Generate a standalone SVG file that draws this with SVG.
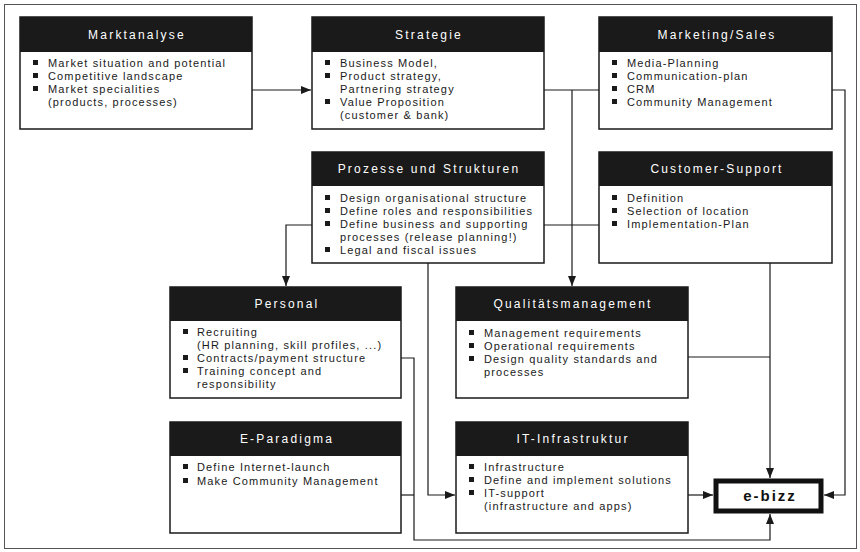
<svg xmlns="http://www.w3.org/2000/svg" width="860" height="552" viewBox="0 0 860 552">
<defs>
<style>
.frame{fill:none;stroke:#555;stroke-width:1}
.box{fill:#fff;stroke:#1a1a1a;stroke-width:1.5}
.hdr{fill:#1a1a1a}
.ttl{font-family:"Liberation Sans",Arial,sans-serif;font-size:12px;fill:#fff;letter-spacing:2.2px;text-anchor:middle}
.txt{font-family:"Liberation Sans",Arial,sans-serif;font-size:11px;fill:#1a1a1a;letter-spacing:1.15px}
.blt{fill:#1a1a1a}
.conn{fill:none;stroke:#1a1a1a;stroke-width:1.2}
.eb{fill:#fff;stroke:#111;stroke-width:5}
.ebt{font-family:"Liberation Sans",Arial,sans-serif;font-size:15px;font-weight:bold;fill:#111;letter-spacing:2px;text-anchor:middle}
</style>
<marker id="ah" markerWidth="10" markerHeight="8" refX="10" refY="4" orient="auto" markerUnits="userSpaceOnUse">
<path d="M0,0 L10,4 L0,8 z" fill="#1a1a1a"/>
</marker>
</defs>
<rect class="frame" x="4.5" y="4.5" width="852" height="544"/>

<g id="connectors">
<path class="conn" d="M252,90 H311" marker-end="url(#ah)"/>
<path class="conn" d="M544,90 H599"/>
<path class="conn" d="M572,90 V286" marker-end="url(#ah)"/>
<path class="conn" d="M832,90 H845 V495 H824" marker-end="url(#ah)"/>
<path class="conn" d="M312,225 H286 V286" marker-end="url(#ah)"/>
<path class="conn" d="M544,225 H599"/>
<path class="conn" d="M428,263 V495 H455" marker-end="url(#ah)"/>
<path class="conn" d="M770,263 V478" marker-end="url(#ah)"/>
<path class="conn" d="M688,357 H770"/>
<path class="conn" d="M688,495 H713" marker-end="url(#ah)"/>
<path class="conn" d="M401,358 H414 V540 H770 V514" marker-end="url(#ah)"/>
<path class="conn" d="M401,495 H414"/>
</g>

<g id="marktanalyse">
<rect class="box" x="20" y="17" width="232" height="112"/>
<rect class="hdr" x="20" y="17" width="232" height="35"/>
<text class="ttl" x="137" y="39">Marktanalyse</text>
<rect class="blt" x="33" y="60" width="5" height="5"/><text class="txt" x="48" y="67">Market situation and potential</text>
<rect class="blt" x="33" y="73" width="5" height="5"/><text class="txt" x="48" y="80">Competitive landscape</text>
<rect class="blt" x="33" y="86" width="5" height="5"/><text class="txt" x="48" y="93">Market specialities</text>
<text class="txt" x="48" y="106">(products, processes)</text>
</g>

<g id="strategie">
<rect class="box" x="312" y="17" width="232" height="112"/>
<rect class="hdr" x="312" y="17" width="232" height="35"/>
<text class="ttl" x="429" y="39">Strategie</text>
<rect class="blt" x="325" y="60" width="5" height="5"/><text class="txt" x="340" y="67">Business Model,</text>
<rect class="blt" x="325" y="73" width="5" height="5"/><text class="txt" x="340" y="80">Product strategy,</text>
<text class="txt" x="340" y="93">Partnering strategy</text>
<rect class="blt" x="325" y="99" width="5" height="5"/><text class="txt" x="340" y="106">Value Proposition</text>
<text class="txt" x="340" y="119">(customer &amp; bank)</text>
</g>

<g id="marketing">
<rect class="box" x="599" y="17" width="233" height="112"/>
<rect class="hdr" x="599" y="17" width="233" height="35"/>
<text class="ttl" x="717" y="39">Marketing/Sales</text>
<rect class="blt" x="612" y="60" width="5" height="5"/><text class="txt" x="627" y="67">Media-Planning</text>
<rect class="blt" x="612" y="73" width="5" height="5"/><text class="txt" x="627" y="80">Communication-plan</text>
<rect class="blt" x="612" y="86" width="5" height="5"/><text class="txt" x="627" y="93">CRM</text>
<rect class="blt" x="612" y="99" width="5" height="5"/><text class="txt" x="627" y="106">Community Management</text>
</g>

<g id="prozesse">
<rect class="box" x="312" y="152" width="232" height="111"/>
<rect class="hdr" x="312" y="152" width="232" height="34"/>
<text class="ttl" x="429" y="173">Prozesse und Strukturen</text>
<rect class="blt" x="325" y="195" width="5" height="5"/><text class="txt" x="340" y="202">Design organisational structure</text>
<rect class="blt" x="325" y="208" width="5" height="5"/><text class="txt" x="340" y="215">Define roles and responsibilities</text>
<rect class="blt" x="325" y="221" width="5" height="5"/><text class="txt" x="340" y="228">Define business and supporting</text>
<text class="txt" x="340" y="241">processes (release planning!)</text>
<rect class="blt" x="325" y="247" width="5" height="5"/><text class="txt" x="340" y="254">Legal and fiscal issues</text>
</g>

<g id="customer-support">
<rect class="box" x="599" y="152" width="233" height="111"/>
<rect class="hdr" x="599" y="152" width="233" height="34"/>
<text class="ttl" x="717" y="173">Customer-Support</text>
<rect class="blt" x="612" y="195" width="5" height="5"/><text class="txt" x="627" y="202">Definition</text>
<rect class="blt" x="612" y="208" width="5" height="5"/><text class="txt" x="627" y="215">Selection of location</text>
<rect class="blt" x="612" y="221" width="5" height="5"/><text class="txt" x="627" y="228">Implementation-Plan</text>
</g>

<g id="personal">
<rect class="box" x="170" y="287" width="231" height="111"/>
<rect class="hdr" x="170" y="287" width="231" height="34"/>
<text class="ttl" x="287" y="308">Personal</text>
<rect class="blt" x="183" y="329" width="5" height="5"/><text class="txt" x="197" y="336">Recruiting</text>
<text class="txt" x="197" y="349">(HR planning, skill profiles, ...)</text>
<rect class="blt" x="183" y="355" width="5" height="5"/><text class="txt" x="197" y="362">Contracts/payment structure</text>
<rect class="blt" x="183" y="368" width="5" height="5"/><text class="txt" x="197" y="375">Training concept and</text>
<text class="txt" x="197" y="388">responsibility</text>
</g>

<g id="qualitaetsmanagement">
<rect class="box" x="456" y="287" width="232" height="111"/>
<rect class="hdr" x="456" y="287" width="232" height="34"/>
<text class="ttl" x="573" y="308">Qualitätsmanagement</text>
<rect class="blt" x="469" y="330" width="5" height="5"/><text class="txt" x="484" y="337">Management requirements</text>
<rect class="blt" x="469" y="343" width="5" height="5"/><text class="txt" x="484" y="350">Operational requirements</text>
<rect class="blt" x="469" y="356" width="5" height="5"/><text class="txt" x="484" y="363">Design quality standards and</text>
<text class="txt" x="484" y="376">processes</text>
</g>

<g id="e-paradigma">
<rect class="box" x="170" y="422" width="231" height="111"/>
<rect class="hdr" x="170" y="422" width="231" height="34"/>
<text class="ttl" x="287" y="443">E-Paradigma</text>
<rect class="blt" x="183" y="464" width="5" height="5"/><text class="txt" x="197" y="471">Define Internet-launch</text>
<rect class="blt" x="183" y="478" width="5" height="5"/><text class="txt" x="197" y="485">Make Community Management</text>
</g>

<g id="it-infrastruktur">
<rect class="box" x="456" y="422" width="232" height="111"/>
<rect class="hdr" x="456" y="422" width="232" height="34"/>
<text class="ttl" x="573" y="443">IT-Infrastruktur</text>
<rect class="blt" x="469" y="464" width="5" height="5"/><text class="txt" x="484" y="471">Infrastructure</text>
<rect class="blt" x="469" y="477" width="5" height="5"/><text class="txt" x="484" y="484">Define and implement solutions</text>
<rect class="blt" x="469" y="490" width="5" height="5"/><text class="txt" x="484" y="497">IT-support</text>
<text class="txt" x="484" y="510">(infrastructure and apps)</text>
</g>

<g id="e-bizz">
<rect class="eb" x="716" y="481" width="105" height="30"/>
<text class="ebt" x="770" y="501">e-bizz</text>
</g>
</svg>
